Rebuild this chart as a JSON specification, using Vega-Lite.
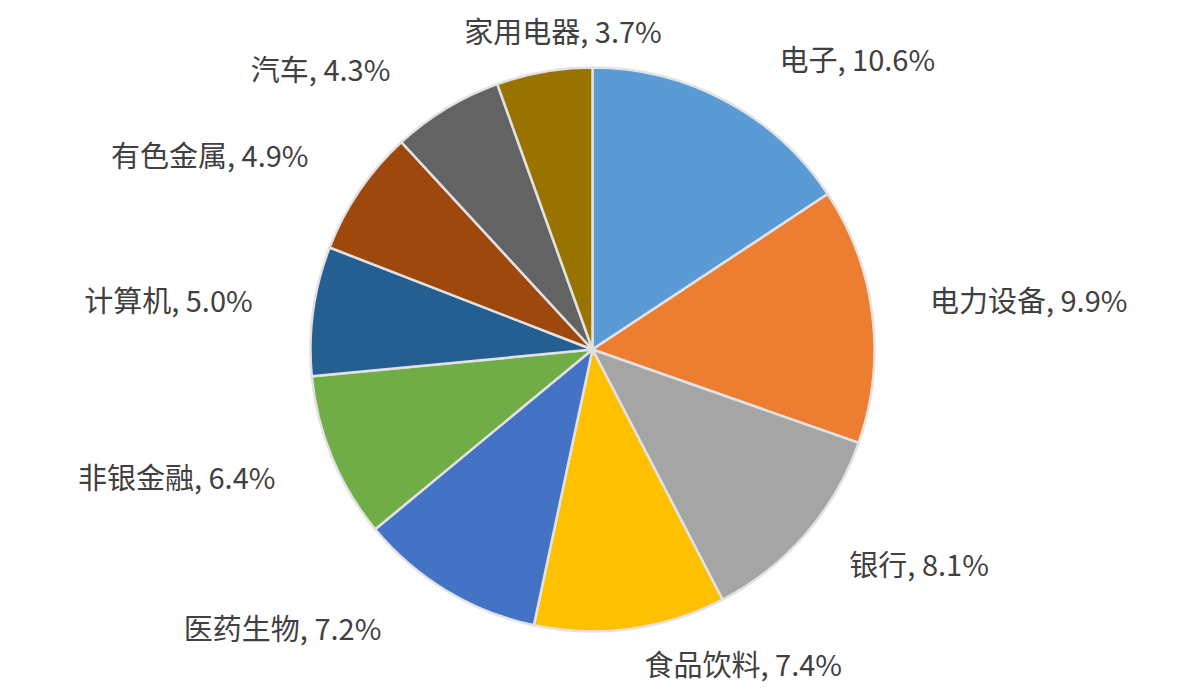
{
  "$schema": "https://vega.github.io/schema/vega-lite/v6.json",
  "autosize": {"type": "none"},
  "width": 1185,
  "height": 699,
  "padding": 0,
  "background": "#ffffff",
  "view": {"stroke": null},
  "data": {
    "values": [
      {"industry": "电子", "value": 10.6, "label": "电子, 10.6%"},
      {"industry": "电力设备", "value": 9.9, "label": "电力设备, 9.9%"},
      {"industry": "银行", "value": 8.1, "label": "银行, 8.1%"},
      {"industry": "食品饮料", "value": 7.4, "label": "食品饮料, 7.4%"},
      {"industry": "医药生物", "value": 7.2, "label": "医药生物, 7.2%"},
      {"industry": "非银金融", "value": 6.4, "label": "非银金融, 6.4%"},
      {"industry": "计算机", "value": 5.0, "label": "计算机, 5.0%"},
      {"industry": "有色金属", "value": 4.9, "label": "有色金属, 4.9%"},
      {"industry": "汽车", "value": 4.3, "label": "汽车, 4.3%"},
      {"industry": "家用电器", "value": 3.7, "label": "家用电器, 3.7%"}
    ]
  },
  "encoding": {
    "theta": {"field": "value", "type": "quantitative", "stack": true},
    "order": {"field": "value", "type": "quantitative", "sort": "descending"}
  },
  "layer": [
    {
      "mark": {"type": "arc", "outerRadius": 282, "stroke": "#e2e2e2", "strokeWidth": 2.5},
      "encoding": {
        "color": {
          "field": "industry",
          "type": "nominal",
          "legend": null,
          "scale": {
            "domain": ["电子", "电力设备", "银行", "食品饮料", "医药生物", "非银金融", "计算机", "有色金属", "汽车", "家用电器"],
            "range": ["#5B9BD5", "#ED7D31", "#A5A5A5", "#FFC000", "#4472C4", "#70AD47", "#255E91", "#9E480E", "#636363", "#997300"]
          }
        }
      }
    },
    {
      "mark": {"type": "text", "radius": 340, "align": "left", "baseline": "middle", "dx": 26, "dy": 12, "font": "Noto Sans CJK SC", "fontSize": 29, "fill": "#404040"},
      "encoding": {
        "text": {"condition": {"test": "datum.industry === '电子'", "field": "label"}, "value": ""}
      }
    },
    {
      "mark": {"type": "text", "radius": 340, "align": "left", "baseline": "middle", "dx": 0, "dy": -5, "font": "Noto Sans CJK SC", "fontSize": 29, "fill": "#404040"},
      "encoding": {
        "text": {"condition": {"test": "indexof(['电力设备','银行'], datum.industry) >= 0", "field": "label"}, "value": ""}
      }
    },
    {
      "mark": {"type": "text", "radius": 320, "align": "left", "baseline": "middle", "dx": 9, "dy": 0, "font": "Noto Sans CJK SC", "fontSize": 29, "fill": "#404040"},
      "encoding": {
        "text": {"condition": {"test": "datum.industry === '食品饮料'", "field": "label"}, "value": ""}
      }
    },
    {
      "mark": {"type": "text", "radius": 340, "align": "right", "baseline": "middle", "dx": -35, "dy": -9, "font": "Noto Sans CJK SC", "fontSize": 29, "fill": "#404040"},
      "encoding": {
        "text": {"condition": {"test": "datum.industry === '医药生物'", "field": "label"}, "value": ""}
      }
    },
    {
      "mark": {"type": "text", "radius": 340, "align": "right", "baseline": "middle", "dx": -3, "dy": 0, "font": "Noto Sans CJK SC", "fontSize": 29, "fill": "#404040"},
      "encoding": {
        "text": {"condition": {"test": "indexof(['非银金融','计算机','有色金属'], datum.industry) >= 0", "field": "label"}, "value": ""}
      }
    },
    {
      "mark": {"type": "text", "radius": 340, "align": "right", "baseline": "middle", "dx": -26, "dy": 13, "font": "Noto Sans CJK SC", "fontSize": 29, "fill": "#404040"},
      "encoding": {
        "text": {"condition": {"test": "datum.industry === '汽车'", "field": "label"}, "value": ""}
      }
    },
    {
      "mark": {"type": "text", "radius": 318, "align": "center", "baseline": "middle", "dx": 25, "dy": -2, "font": "Noto Sans CJK SC", "fontSize": 29, "fill": "#404040"},
      "encoding": {
        "text": {"condition": {"test": "datum.industry === '家用电器'", "field": "label"}, "value": ""}
      }
    }
  ]
}
